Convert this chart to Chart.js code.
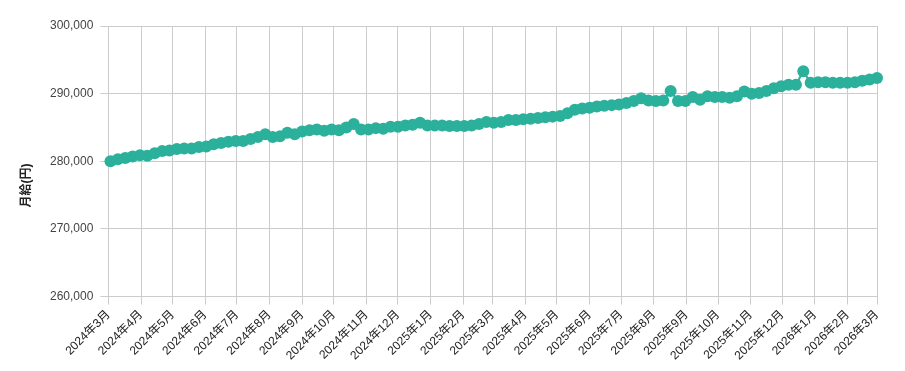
<!DOCTYPE html>
<html lang="ja">
<head>
<meta charset="utf-8">
<script src="https://cdn.jsdelivr.net/npm/chart.js@4"></script>
<style>
  html, body { margin: 0; padding: 0; background: #fff; }
  #wrap { width: 905px; height: 371px; }
</style>
</head>
<body>
<div id="wrap"><canvas id="salaryChart"></canvas></div>
<script>
// 月ラベル（目盛り）
const monthLabels = [
    '2024年3月', '2024年4月', '2024年5月', '2024年6月', '2024年7月', '2024年8月',
    '2024年9月', '2024年10月', '2024年11月', '2024年12月', '2025年1月', '2025年2月',
    '2025年3月', '2025年4月', '2025年5月', '2025年6月', '2025年7月', '2025年8月',
    '2025年9月', '2025年10月', '2025年11月', '2025年12月', '2026年1月', '2026年2月',
    '2026年3月'
];

// 週ごとの月給（円）
const salaries = [
    280000, 280300, 280500, 280700, 280900, 280800, 281200, 281500, 281600, 281800,
    281900, 281900, 282100, 282200, 282500, 282700, 282900, 283000, 283000, 283300,
    283600, 284000, 283600, 283700, 284200, 284000, 284400, 284600, 284700, 284500,
    284700, 284600, 285000, 285500, 284700, 284700, 284900, 284800, 285100, 285100,
    285300, 285400, 285700, 285300, 285300, 285300, 285200, 285200, 285200, 285300,
    285500, 285800, 285700, 285800, 286100, 286100, 286200, 286300, 286400, 286500,
    286600, 286700, 287100, 287600, 287800, 287900, 288100, 288200, 288300, 288400,
    288600, 288900, 289300, 289000, 288900, 289000, 290400, 288900, 288900, 289500,
    289100, 289600, 289500, 289500, 289400, 289600, 290300, 290000, 290100, 290400,
    290800, 291100, 291300, 291300, 293300, 291600, 291700, 291700, 291600, 291600,
    291600, 291700, 291900, 292100, 292300
];

const yTicks = [260000, 270000, 280000, 290000, 300000];
const yTitle = '月給(円)';

const COLOR = '#2bb09b';
const DAY = 24 * 60 * 60 * 1000;
const origin = Date.UTC(2024, 2, 1);
const firstWeek = Date.UTC(2024, 2, 3);

// 月初の位置（日数）
const monthPos = monthLabels.map(function(label) {
    const m = label.match(/(\d+)年(\d+)月/);
    return (Date.UTC(+m[1], +m[2] - 1, 1) - origin) / DAY;
});

const points = salaries.map(function(v, i) {
    return { x: (firstWeek - origin) / DAY + i * 7, y: v };
});

// 縦軸タイトル（キャンバスの縦中央に描く）
const yTitlePlugin = {
    id: 'yTitle',
    afterDraw: function(chart) {
        const c = chart.ctx;
        c.save();
        c.translate(27, chart.height / 2);
        c.rotate(-Math.PI / 2);
        c.textAlign = 'center';
        c.textBaseline = 'middle';
        c.fillStyle = '#222';
        c.font = "bold 12px 'Liberation Sans', Arial, 'Noto Sans CJK JP', sans-serif";
        c.fillText(yTitle, 0, 0);
        c.restore();
    }
};

document.addEventListener('DOMContentLoaded', function() {
    const ctx = document.getElementById('salaryChart').getContext('2d');
    Chart.defaults.font.family = "'Liberation Sans', Arial, 'Noto Sans CJK JP', sans-serif";
    Chart.defaults.font.size = 12;
    Chart.defaults.color = '#444';

    new Chart(ctx, {
        type: 'line',
        data: {
            datasets: [{
                label: '月給',
                data: points,
                borderColor: COLOR,
                backgroundColor: COLOR,
                borderWidth: 2,
                pointRadius: 6,
                pointHoverRadius: 7,
                pointBorderWidth: 0,
                tension: 0,
                clip: false
            }]
        },
        plugins: [yTitlePlugin],
        options: {
            responsive: true,
            maintainAspectRatio: false,
            animation: false,
            layout: {
                padding: { top: 26, right: 28, left: 43, bottom: 5 }
            },
            plugins: {
                legend: { display: false },
                tooltip: { enabled: false }
            },
            scales: {
                x: {
                    type: 'linear',
                    min: monthPos[0],
                    max: monthPos[monthPos.length - 1],
                    afterBuildTicks: function(axis) {
                        axis.ticks = monthPos.map(function(p) { return { value: p }; });
                    },
                    ticks: {
                        autoSkip: false,
                        maxRotation: 45,
                        minRotation: 45,
                        color: '#222',
                        callback: function(value) {
                            const idx = monthPos.indexOf(value);
                            return idx >= 0 ? monthLabels[idx] : '';
                        }
                    },
                    grid: { color: '#cccccc' },
                    border: { color: '#cccccc' }
                },
                y: {
                    min: yTicks[0],
                    max: yTicks[yTicks.length - 1],
                    afterBuildTicks: function(axis) {
                        axis.ticks = yTicks.map(function(v) { return { value: v }; });
                    },
                    ticks: {
                        color: '#444',
                        padding: 7,
                        callback: function(value) {
                            return value.toLocaleString('en-US');
                        }
                    },
                    grid: { color: '#cccccc' },
                    border: { color: '#cccccc' }
                }
            }
        }
    });
});
</script>
</body>
</html>
